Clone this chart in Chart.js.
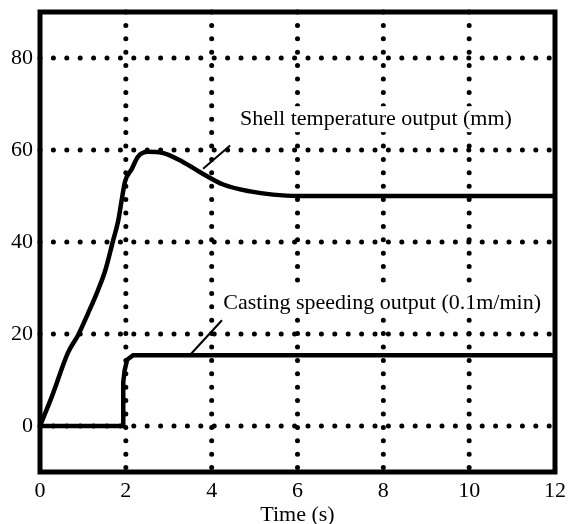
<!DOCTYPE html>
<html>
<head>
<meta charset="utf-8">
<script src="https://cdn.jsdelivr.net/npm/chart.js@4.4.0/dist/chart.umd.min.js"></script>
<style>
  html, body { margin: 0; padding: 0; background: #fff; }
  #wrap { width: 569px; height: 524px; }
</style>
</head>
<body>
<div id="wrap"><canvas id="myChart" width="569" height="524"></canvas></div>
<script>
// shell temperature output (mm)
var tempTime = [0, 0.28, 0.65, 0.89, 1.12, 1.35, 1.52, 1.7, 1.82, 1.91, 1.98, 2.14, 2.28, 2.52, 2.84, 3.33, 3.8, 4.27, 4.9, 5.43, 6.0, 8, 10, 12];
var tempVal = [0, 6.5, 15.9, 19.8, 24.5, 29.5, 33.8, 40.2, 44.5, 49.5, 53.1, 55.9, 58.5, 59.6, 59.4, 57.4, 54.8, 52.5, 51, 50.3, 50, 50, 50, 50];

// casting speed output (0.1 m/min)
var speedTime = [0, 1.94, 1.94, 1.97, 2.03, 2.17, 4, 8, 12];
var speedVal = [0, 0, 9.5, 12, 14.4, 15.4, 15.4, 15.4, 15.4];

var xTicks = [0, 2, 4, 6, 8, 10, 12];
var yTicks = [0, 20, 40, 60, 80];

var labelFont = "Liberation Serif";
var fontSize = 22;

function toPoints(xs, ys) {
  var pts = [];
  for (var i = 0; i < xs.length; i++) pts.push({ x: xs[i], y: ys[i] });
  return pts;
}

function boxedText(ctx, text, x, y) {
  var w = ctx.measureText(text).width;
  ctx.fillStyle = "#fff";
  ctx.fillRect(x - 3, y - 13, w + 6, 26);
  ctx.fillStyle = "#000";
  ctx.fillText(text, x, y);
}

// dotted grid + heavy frame + the two annotations
var decoPlugin = {
  id: "deco",
  beforeDatasetsDraw: function (chart) {
    var ctx = chart.ctx, a = chart.chartArea;
    var xs = chart.scales.x, ys = chart.scales.y;
    ctx.save();
    ctx.strokeStyle = "#000";
    ctx.lineWidth = 5;
    ctx.lineCap = "round";
    ctx.setLineDash([0, 13.4]);
    yTicks.forEach(function (v) {
      var py = ys.getPixelForValue(v);
      ctx.beginPath();
      ctx.moveTo(a.left, py);
      ctx.lineTo(a.right, py);
      ctx.stroke();
    });
    xTicks.forEach(function (v) {
      if (v === xTicks[0] || v === xTicks[xTicks.length - 1]) return;
      var px = xs.getPixelForValue(v);
      ctx.beginPath();
      ctx.moveTo(px, a.top);
      ctx.lineTo(px, a.bottom);
      ctx.stroke();
    });
    ctx.setLineDash([]);
    ctx.font = fontSize + "px '" + labelFont + "'";
    ctx.textBaseline = "middle";
    ctx.textAlign = "left";
    boxedText(ctx, "Shell temperature output (mm)", xs.getPixelForValue(4.66), ys.getPixelForValue(66.7));
    boxedText(ctx, "Casting speeding output (0.1m/min)", xs.getPixelForValue(4.27), ys.getPixelForValue(26.7));
    ctx.restore();
  },
  afterDatasetsDraw: function (chart) {
    var ctx = chart.ctx, a = chart.chartArea;
    var xs = chart.scales.x, ys = chart.scales.y;
    ctx.save();
    ctx.strokeStyle = "#000";
    ctx.lineWidth = 5;
    ctx.strokeRect(a.left, a.top, a.right - a.left, a.bottom - a.top);

    ctx.lineWidth = 2;
    ctx.beginPath();
    ctx.moveTo(xs.getPixelForValue(3.8), ys.getPixelForValue(55.9));
    ctx.lineTo(xs.getPixelForValue(4.43), ys.getPixelForValue(61));
    ctx.moveTo(xs.getPixelForValue(3.5), ys.getPixelForValue(15.5));
    ctx.lineTo(xs.getPixelForValue(4.24), ys.getPixelForValue(23));
    ctx.stroke();
    ctx.restore();
  }
};

var ctx = document.getElementById("myChart").getContext("2d");
var chart = new Chart(ctx, {
  type: "line",
  data: {
    datasets: [
      {
        label: "Shell temperature output (mm)",
        data: toPoints(tempTime, tempVal),
        borderColor: "#000",
        borderWidth: 4.5,
        pointRadius: 0,
        cubicInterpolationMode: "monotone",
      },
      {
        label: "Casting speeding output (0.1m/min)",
        data: toPoints(speedTime, speedVal),
        borderColor: "#000",
        borderWidth: 4.5,
        pointRadius: 0,
      },
    ],
  },
  options: {
    responsive: false,
    animation: false,
    layout: { padding: { top: 12, right: 14, left: 0, bottom: 0 } },
    plugins: { legend: { display: false }, tooltip: { enabled: false } },
    scales: {
      x: {
        type: "linear",
        min: 0,
        max: 12,
        afterBuildTicks: function (s) { s.ticks = xTicks.map(function (v) { return { value: v }; }); },
        afterFit: function (s) { s.height = 52; s.paddingLeft = 0; s.paddingRight = 0; },
        grid: { display: false, drawTicks: false },
        border: { display: false },
        ticks: { color: "#000", padding: 6, maxRotation: 0, font: { family: labelFont, size: fontSize } },
        title: { display: true, text: "Time (s)", color: "#000", padding: { top: 0, bottom: -4 }, font: { family: labelFont, size: fontSize } },
      },
      y: {
        min: -10,
        max: 90,
        afterBuildTicks: function (s) { s.ticks = yTicks.map(function (v) { return { value: v }; }); },
        afterFit: function (s) { s.width = 40; s.paddingTop = 0; s.paddingBottom = 0; },
        grid: { display: false, drawTicks: false },
        border: { display: false },
        ticks: { color: "#000", padding: 7, font: { family: labelFont, size: fontSize } },
      },
    },
  },
  plugins: [decoPlugin],
});
</script>
</body>
</html>
